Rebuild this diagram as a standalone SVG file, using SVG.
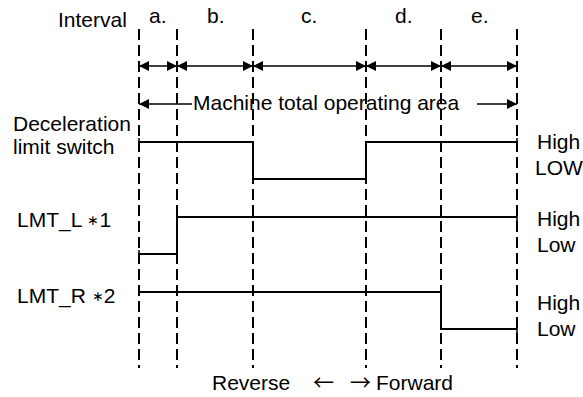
<svg xmlns="http://www.w3.org/2000/svg" width="583" height="397" viewBox="0 0 583 397">
<style>
text{font-family:"Liberation Sans",Arial,sans-serif;font-size:21px;fill:#000}
.grid{stroke:#000;stroke-width:2;stroke-dasharray:11 5;fill:none}
.dim{stroke:#000;stroke-width:1.6;fill:none;marker-start:url(#ah);marker-end:url(#ah)}
.sig{stroke:#000;stroke-width:2;fill:none}
.tick{stroke:#000;stroke-width:1.5}
</style>
<defs>
<marker id="ah" viewBox="0 0 10 10" refX="10" refY="5" markerWidth="10" markerHeight="10" markerUnits="userSpaceOnUse" orient="auto-start-reverse">
<path d="M0,0 L10,5 L0,10 Z" fill="#000"/>
</marker>
</defs>
<rect width="583" height="397" fill="#fff"/>
<g id="gridlines">
<line class="grid" x1="139" y1="29" x2="139" y2="368"/>
<line class="grid" x1="177" y1="29" x2="177" y2="368"/>
<line class="grid" x1="253" y1="29" x2="253" y2="368"/>
<line class="grid" x1="366" y1="29" x2="366" y2="368"/>
<line class="grid" x1="441" y1="29" x2="441" y2="368"/>
<line class="grid" x1="517" y1="29" x2="517" y2="368"/>
</g>
<g id="interval-labels">
<text x="58" y="27">Interval</text>
<text x="149" y="23">a.</text>
<text x="207" y="23">b.</text>
<text x="301" y="23">c.</text>
<text x="395" y="23">d.</text>
<text x="471" y="23">e.</text>
</g>
<g id="connectors">
<line class="dim" x1="139" y1="66" x2="177" y2="66"/>
<line class="dim" x1="177" y1="66" x2="253" y2="66"/>
<line class="dim" x1="253" y1="66" x2="366" y2="66"/>
<line class="dim" x1="366" y1="66" x2="441" y2="66"/>
<line class="dim" x1="441" y1="66" x2="517" y2="66"/>
<line x1="192" y1="104" x2="139" y2="104" stroke="#000" stroke-width="1.6" marker-end="url(#ah)"/>
<line x1="477" y1="104" x2="517" y2="104" stroke="#000" stroke-width="1.6" marker-end="url(#ah)"/>
</g>
<g id="machine-area">
<text x="193" y="110">Machine total operating area</text>
</g>
<g id="decel">
<text x="13" y="131">Deceleration</text>
<text x="13" y="154">limit switch</text>
<polyline class="sig" points="139,142 253,142 253,179 366,179 366,142 517,142"/>
<line class="tick" x1="139" y1="138" x2="139" y2="146"/>
<line class="tick" x1="517" y1="138" x2="517" y2="146"/>
<text x="537" y="149">High</text>
<text x="535" y="175" font-size="20">LOW</text>
</g>
<g id="lmt-l">
<text x="17" y="227">LMT_L <tspan font-size="14" dy="-2">∗</tspan><tspan dy="2">1</tspan></text>
<polyline class="sig" points="139,254 177,254 177,217 517,217"/>
<line class="tick" x1="139" y1="250" x2="139" y2="258"/>
<line class="tick" x1="517" y1="213" x2="517" y2="221"/>
<text x="537" y="226">High</text>
<text x="537" y="252">Low</text>
</g>
<g id="lmt-r">
<text x="17" y="303">LMT_R <tspan font-size="14" dy="-2">∗</tspan><tspan dy="2">2</tspan></text>
<polyline class="sig" points="139,292 441,292 441,329 517,329"/>
<line class="tick" x1="139" y1="288" x2="139" y2="296"/>
<line class="tick" x1="517" y1="325" x2="517" y2="333"/>
<text x="537" y="310">High</text>
<text x="537" y="336">Low</text>
</g>
<g id="direction">
<text y="390"><tspan x="212">Reverse</tspan><tspan x="313" font-family="'Noto Sans CJK JP',sans-serif">←</tspan><tspan x="350" font-family="'Noto Sans CJK JP',sans-serif">→</tspan><tspan x="376">Forward</tspan></text>
</g>
</svg>
